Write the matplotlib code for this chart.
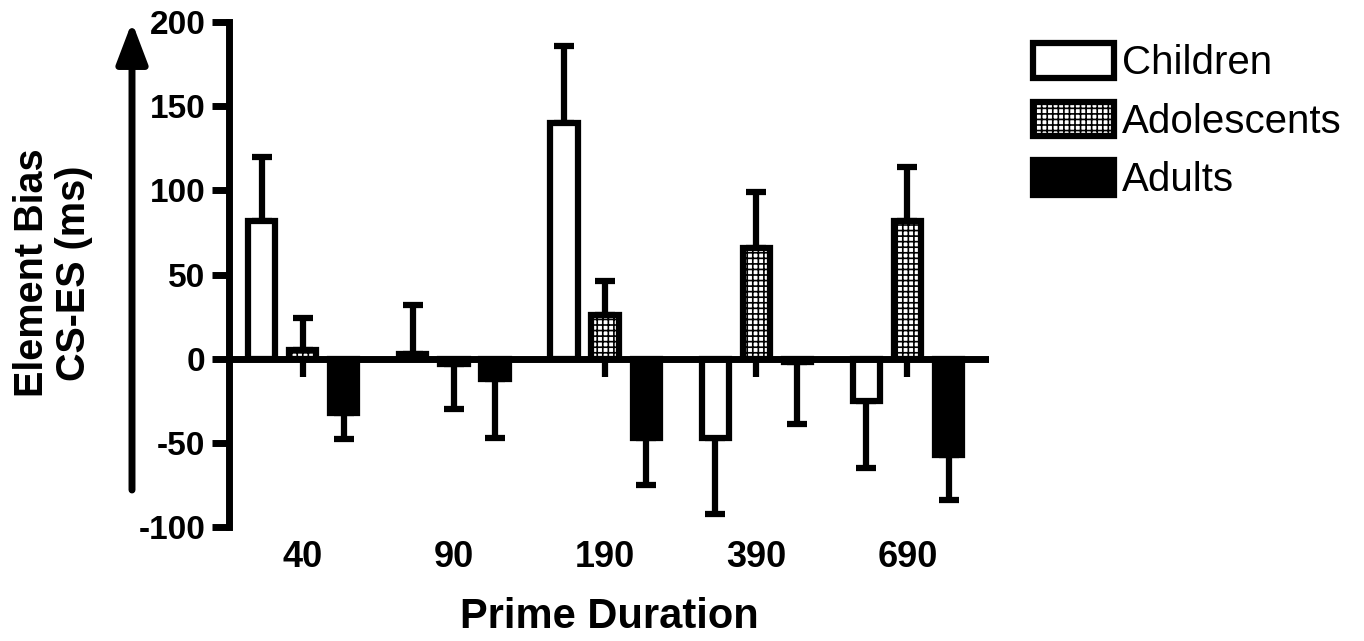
import matplotlib
matplotlib.use("Agg")
import matplotlib.pyplot as plt
import numpy as np

plt.rcParams['font.family'] = ['Liberation Sans', 'DejaVu Sans']
plt.rcParams['hatch.linewidth'] = 1.2
plt.rcParams['axes.unicode_minus'] = False

durations = ['40', '90', '190', '390', '690']
groups = ['Children', 'Adolescents', 'Adults']

children = [82, 3, 140, -47, -25]
children_err = [38, 29, 46, 45, 40]
adolescents = [5, -3, 26, 66, 82]
adolescents_err = [19, 27, 20, 33, 32]
adults = [-32, -12, -47, -2, -57]
adults_err = [16, 35, 28, 37, 27]
# short stubs drawn below zero under the positive adolescent bars
adol_stub = [-11, 0, -11, -11, -11]

values = [children, adolescents, adults]
errors = [children_err, adolescents_err, adults_err]
faces = ['white', 'white', 'black']
hatches = [None, '+++', None]

lw = 4.5
fig = plt.figure(figsize=(13.64, 6.41), dpi=100)
ax = fig.add_axes([0.1679, 0.1778, 0.7251 - 0.1679, 0.9657 - 0.1778])

x = np.arange(len(durations))
step = 0.272
width = 0.18

for i in range(3):
    pos = x + (i - 1) * step
    v = np.array(values[i])
    e = np.array(errors[i])
    lo = np.where(v < 0, e, 0)
    hi = np.where(v >= 0, e, 0)
    ax.errorbar(pos, v, yerr=[lo, hi], fmt='none', ecolor='black',
                elinewidth=lw, capsize=7, capthick=lw, zorder=1)
    ax.bar(pos, v, width, color=faces[i], edgecolor='black', linewidth=lw,
           hatch=hatches[i], label=groups[i], zorder=2)
    if i == 1:
        stub = np.array(adol_stub)
        ax.vlines(pos[stub < 0], 0, stub[stub < 0], color='black', lw=lw, zorder=1)

ax.axhline(0, color='black', lw=5, zorder=4)

ax.set_xlim(-0.488, 4.54)
ax.set_ylim(-100, 200)
ax.set_yticks([-100, -50, 0, 50, 100, 150, 200])
ax.set_xticks(x)
ax.set_xticklabels(durations)

for s in ['top', 'right', 'bottom']:
    ax.spines[s].set_visible(False)
ax.spines['left'].set_linewidth(5)
ax.spines['left'].set_capstyle('projecting')

ax.tick_params(axis='y', width=5, length=12, pad=5, labelsize=24)
ax.tick_params(axis='x', length=0, pad=9, labelsize=26)
for t in ax.get_xticklabels() + ax.get_yticklabels():
    t.set_fontweight('bold')

ax.set_xlabel('Prime Duration', fontsize=30, fontweight='bold', labelpad=16)

fig.text(53 / 1364, 1 - 273 / 641, 'Element Bias\nCS-ES (ms)', rotation=90,
         ha='center', va='center', multialignment='center',
         fontsize=28.5, fontweight='bold', linespacing=1.12)

ax.annotate('', xy=(132 / 1364, 1 - 22 / 641), xycoords='figure fraction',
            xytext=(132 / 1364, 1 - 490 / 641), textcoords='figure fraction',
            arrowprops=dict(arrowstyle='-|>,head_length=2.5,head_width=0.95',
                            color='black', lw=5, shrinkA=0, shrinkB=0),
            annotation_clip=False)

fig.legend(loc='upper left', bbox_to_anchor=(1033 / 1364, 1 - 43 / 641),
           frameon=False, fontsize=29, handlelength=2.0, handleheight=0.95,
           handletextpad=0.22, labelspacing=0.48, borderpad=0, borderaxespad=0)

fig.savefig('out.png', dpi=100)
